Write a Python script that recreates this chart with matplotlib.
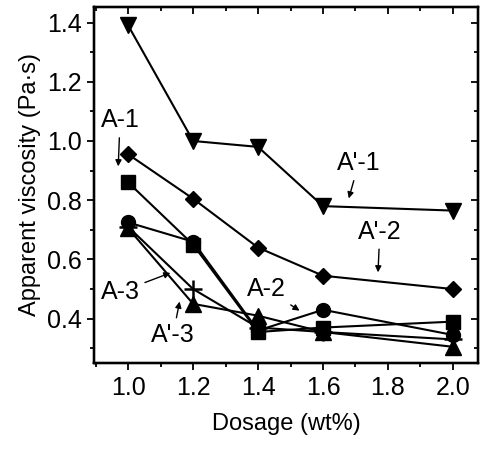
import matplotlib
matplotlib.use("Agg")
import matplotlib.pyplot as plt
from matplotlib.ticker import MultipleLocator, NullFormatter

plt.rcParams['font.family'] = ['Liberation Sans', 'DejaVu Sans']

dosage = [1.0, 1.2, 1.4, 1.6, 2.0]
a1_square = [0.86, 0.65, 0.355, 0.37, 0.39]
a2_circle = [0.725, 0.66, 0.36, 0.43, 0.345]
a3_plus = [0.71, 0.50, 0.37, 0.355, 0.33]
ap1_down = [1.39, 1.0, 0.98, 0.78, 0.765]
ap2_diamond = [0.955, 0.805, 0.64, 0.545, 0.50]
ap3_up = [0.705, 0.45, 0.41, 0.355, 0.305]

xticks = [1.0, 1.2, 1.4, 1.6, 1.8, 2.0]
yticks = [0.4, 0.6, 0.8, 1.0, 1.2, 1.4]
xlim = (0.895, 2.078)
ylim = (0.25, 1.453)

fig = plt.figure(figsize=(4.85, 4.55), dpi=100)
ax = fig.add_axes([0.194, 0.202, 0.792, 0.783])

lw = 1.5
ax.plot(dosage, ap1_down, 'k-', marker='v', ms=12, lw=lw)
ax.plot(dosage, ap2_diamond, 'k-', marker='D', ms=8.5, lw=lw)
ax.plot(dosage, a1_square, 'k-', marker='s', ms=9.5, lw=lw)
ax.plot(dosage, a2_circle, 'k-', marker='o', ms=10, lw=lw)
ax.plot(dosage, a3_plus, 'k-', marker='+', ms=13, mew=1.8, lw=lw)
ax.plot(dosage, ap3_up, 'k-', marker='^', ms=11, lw=lw)

ax.set_xlim(*xlim)
ax.set_ylim(*ylim)
ax.set_xticks(xticks)
ax.set_yticks(yticks)
ax.set_xticklabels([f"{v:.1f}" for v in xticks])
ax.set_yticklabels([f"{v:.1f}" for v in yticks])
ax.xaxis.set_minor_locator(MultipleLocator(0.1))
ax.yaxis.set_minor_locator(MultipleLocator(0.1))
ax.tick_params(which='both', direction='out', width=1.3, labelsize=18, pad=4)
ax.tick_params(which='major', length=5)
ax.tick_params(which='minor', length=3)
for s in ax.spines.values():
    s.set_linewidth(1.6)

axr = ax.twinx()
axr.set_ylim(*ylim)
axr.set_yticks(yticks)
axr.yaxis.set_minor_locator(MultipleLocator(0.1))
axr.yaxis.set_major_formatter(NullFormatter())
axt = ax.twiny()
axt.set_xlim(*xlim)
axt.set_xticks(xticks)
axt.xaxis.set_minor_locator(MultipleLocator(0.1))
axt.xaxis.set_major_formatter(NullFormatter())
for a in (axr, axt):
    a.tick_params(which='both', direction='in', width=1.3)
    a.tick_params(which='major', length=5)
    a.tick_params(which='minor', length=3)
    for s in a.spines.values():
        s.set_linewidth(1.6)

ax.set_xlabel("Dosage (wt%)", fontsize=17, labelpad=10)
ax.set_ylabel("Apparent viscosity (Pa·s)", fontsize=17, labelpad=4)

ap = dict(arrowstyle='-|>', color='k', lw=1.0, mutation_scale=9)
fs = 18
ax.annotate("A-1", xy=(0.969, 0.905), xytext=(0.975, 1.07), fontsize=fs,
            ha='center', va='center', arrowprops=ap)
ax.annotate("A'-1", xy=(1.677, 0.797), xytext=(1.71, 0.925), fontsize=fs,
            ha='center', va='center', arrowprops=ap)
ax.annotate("A'-2", xy=(1.769, 0.547), xytext=(1.775, 0.694), fontsize=fs,
            ha='center', va='center', arrowprops=ap)
ax.annotate("A-2", xy=(1.535, 0.422), xytext=(1.425, 0.50), fontsize=fs,
            ha='center', va='center', arrowprops=ap)
ax.annotate("A-3", xy=(1.138, 0.558), xytext=(0.975, 0.49), fontsize=fs,
            ha='center', va='center', arrowprops=ap)
ax.annotate("A'-3", xy=(1.16, 0.467), xytext=(1.138, 0.344), fontsize=fs,
            ha='center', va='center', arrowprops=ap)

fig.savefig("out.png", dpi=100)
